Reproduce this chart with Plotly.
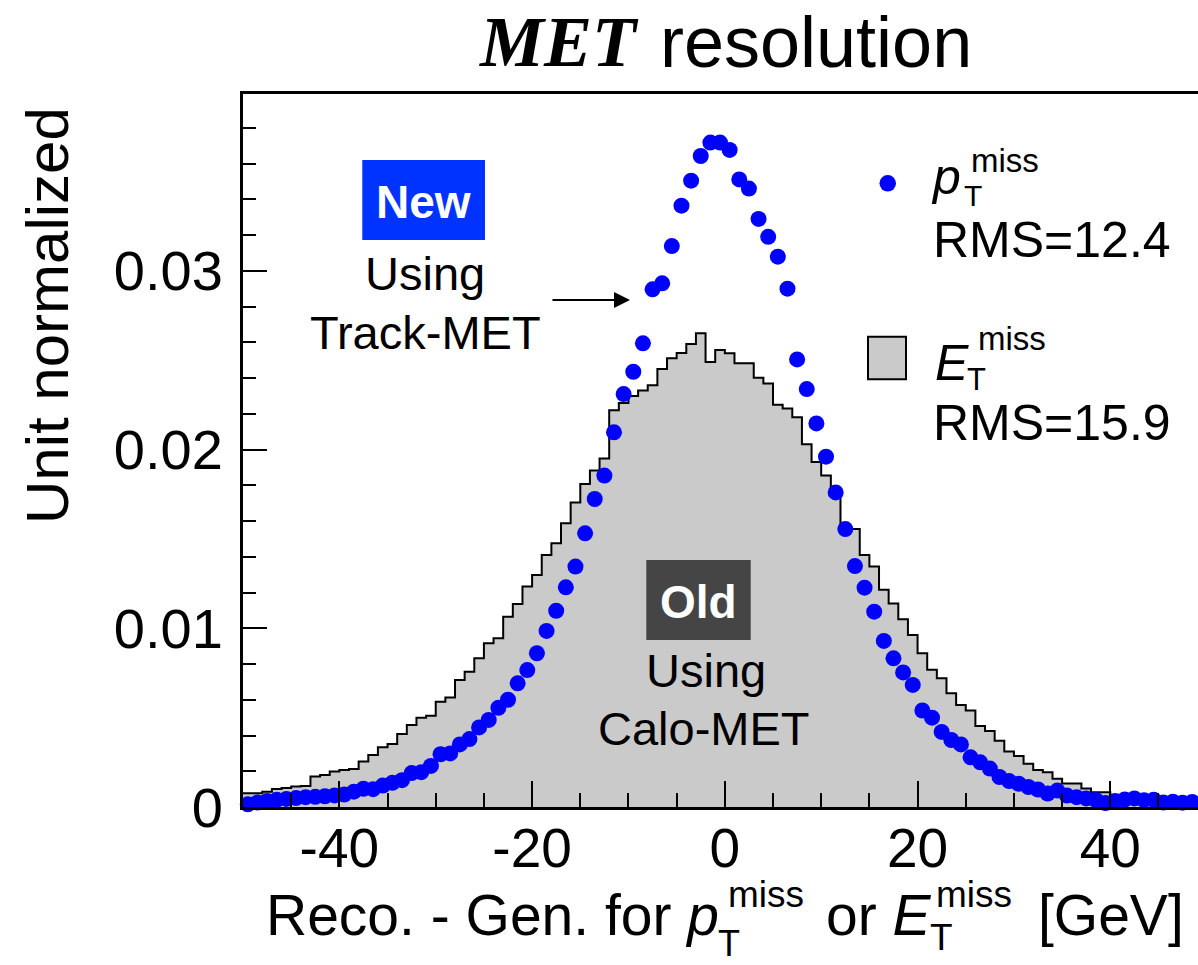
import numpy as np
import plotly.graph_objects as go

# ---------------------------------------------------------------- data
# Calo-MET histogram: 1 GeV bins from -50 to 50 GeV, unit normalized (x 1e-3)
bin_edges = np.arange(-50, 51, 1)
calo_met = [
    0.77, 0.77, 0.86, 1.01, 1.06, 1.15, 1.17, 1.70, 1.79, 1.98,
    2.07, 2.13, 2.54, 2.91, 3.34, 3.52, 4.08, 4.59, 5.00, 5.11,
    5.89, 6.12, 7.10, 7.57, 8.32, 9.16, 9.44, 10.65, 11.36, 12.33,
    12.98, 14.10, 14.75, 15.87, 17.03, 18.07, 18.82, 19.50, 22.20, 22.60,
    23.00, 23.30, 23.60, 24.50, 25.10, 25.40, 25.90, 26.50, 24.90, 25.57,
    25.38, 24.82, 24.82, 24.02, 23.70, 22.50, 22.30, 21.80, 20.30, 19.30,
    18.55, 17.55, 15.55, 15.55, 14.10, 13.45, 12.15, 11.38, 10.50, 9.62,
    8.60, 7.68, 7.20, 6.36, 5.71, 5.40, 4.53, 4.25, 3.70, 3.10,
    2.85, 2.42, 2.07, 1.95, 1.58, 1.32, 1.32, 1.04, 0.83, 0.83,
    0.67, 0.60, 0.55, 0.50, 0.45, 0.40, 0.36, 0.33, 0.30, 0.28,
]

# Track-MET points at the bin centres (x 1e-3)
bin_centers = np.arange(-49.5, 50, 1)
track_met = [
    0.15, 0.25, 0.33, 0.40, 0.45, 0.50, 0.55, 0.57, 0.60, 0.65,
    0.70, 0.86, 1.02, 1.00, 1.20, 1.35, 1.50, 1.90, 1.95, 2.30,
    2.95, 3.00, 3.50, 3.80, 4.45, 4.87, 5.55, 6.00, 6.92, 7.66,
    8.60, 9.85, 10.98, 12.29, 13.45, 15.31, 17.23, 18.54, 20.96, 23.10,
    24.35, 25.94, 28.96, 29.30, 31.38, 33.64, 35.04, 36.42, 37.17, 37.17,
    36.76, 35.11, 34.60, 32.90, 31.90, 30.79, 29.00, 25.04, 23.38, 21.46,
    19.60, 17.60, 15.55, 13.48, 12.27, 10.93, 9.29, 8.32, 7.53, 6.83,
    5.40, 5.00, 4.20, 3.75, 3.50, 2.78, 2.50, 2.15, 1.68, 1.45,
    1.30, 1.12, 0.98, 0.75, 0.92, 0.64, 0.55, 0.48, 0.39, 0.22,
    0.33, 0.42, 0.48, 0.38, 0.40, 0.25, 0.30, 0.24, 0.28, 0.22,
]
SCALE = 1e-3

x_tickvals = [-40, -20, 0, 20, 40]
x_ticktext = ["-40", "-20", "0", "20", "40"]
y_tickvals = [0, 0.01, 0.02, 0.03]
y_ticktext = ["0", "0.01", "0.02", "0.03"]

rms_track = "RMS=12.4"
rms_calo = "RMS=15.9"

# ---------------------------------------------------------------- geometry
W, H = 1198, 965
ML, MR, MT, MB = 243, 0, 94, 158
PW, PH = W - ML - MR, H - MT - MB
X_RANGE = [-50, 49.1]
Y_RANGE = [0, 0.03989]

SANS = "Liberation Sans"
SERIF = "Liberation Serif"
BLUE = "#0000ff"
GREY = "#cacaca"


def px(xp):
    """pixel column -> paper x"""
    return (xp - ML) / PW


def py(yp):
    """pixel row -> paper y"""
    return (MT + PH - yp) / PH


def mid(baseline, size, serif=False):
    """vertical centre of a text box whose baseline sits at the given row"""
    return baseline - (0.3375 if serif else 0.3465) * size


fig = go.Figure()

# histogram drawn as a filled step line
hist_y = np.append(calo_met, calo_met[-1]) * SCALE
fig.add_trace(go.Scatter(
    x=bin_edges, y=hist_y, mode="lines",
    line=dict(shape="hv", color="black", width=2),
    fill="tozeroy", fillcolor=GREY,
    hoverinfo="skip", showlegend=False,
))

fig.add_trace(go.Scatter(
    x=bin_centers, y=np.array(track_met) * SCALE, mode="markers",
    marker=dict(color=BLUE, size=16, line=dict(width=0)),
    cliponaxis=False, showlegend=False,
))

annotations = []
shapes = []


def text(s, x, y, size, xanchor="center", color="black", family=SANS, angle=0):
    annotations.append(dict(
        text=s, x=px(x), y=py(y), xref="paper", yref="paper",
        xanchor=xanchor, yanchor="middle", showarrow=False, textangle=angle,
        font=dict(family=family, size=size, color=color),
    ))


# title
text("<b><i>MET</i></b>", 641, 42, 72, "right", family=SERIF)
text("resolution", 658, 42, 72, "left")

# axis titles
text("Unit normalized", 47, 316, 60, angle=-90)
text("Reco. - Gen. for <i>p</i>", 721, mid(935, 57), 57, "right")
text("T", 716, mid(956, 36), 36, "left")
text("miss", 726, mid(907, 37), 37, "left")
text("or <i>E</i>", 934, mid(935, 57), 57, "right")
text("T", 928, mid(950, 37), 37, "left")
text("miss", 934, mid(907, 37), 37, "left")
text("[GeV]", 1036, mid(935, 57), 57, "left")

# legend
shapes.append(dict(type="circle", xref="paper", yref="paper",
                   x0=px(879.5), x1=px(896), y0=py(175), y1=py(191.6),
                   fillcolor=BLUE, line=dict(width=0)))
text("<i>p</i>", 929, mid(194.5, 50), 50, "left")
text("T", 961.5, mid(206, 30), 30, "left")
text("miss", 968.8, mid(171.7, 33), 33, "left")
text(rms_track, 930.7, mid(257.5, 50), 50, "left")

shapes.append(dict(type="rect", xref="paper", yref="paper",
                   x0=px(868), x1=px(906), y0=py(379.3), y1=py(336.7),
                   fillcolor=GREY, line=dict(color="black", width=2)))
text("<i>E</i>", 932.5, mid(380, 50), 50, "left")
text("T", 965, mid(390, 31), 31, "left")
text("miss", 976, mid(350, 33), 33, "left")
text(rms_calo, 930.7, mid(440, 50), 50, "left")

# "New" label with arrow
shapes.append(dict(type="rect", xref="paper", yref="paper",
                   x0=px(362.3), x1=px(485), y0=py(240), y1=py(160),
                   fillcolor="#0033ff", line=dict(width=0)))
text("<b>New</b>", 423.7, mid(218.3, 46), 46, color="white")
text("Using", 425, mid(290, 47), 47)
text("Track-MET", 425, mid(348.3, 47), 47)
annotations.append(dict(
    x=px(630), y=py(300), ax=-79, ay=0,
    xref="paper", yref="paper", axref="pixel", ayref="pixel",
    text="", showarrow=True, arrowhead=2, arrowsize=1.6, arrowwidth=2,
    arrowcolor="black", standoff=0,
))

# "Old" label
shapes.append(dict(type="rect", xref="paper", yref="paper",
                   x0=px(646.3), x1=px(750.7), y0=py(640), y1=py(560),
                   fillcolor="#454545", line=dict(width=0)))
text("<b>Old</b>", 698.5, mid(618.3, 46), 46, color="white")
text("Using", 706, mid(686.7, 47), 47)
text("Calo-MET", 704, mid(745, 47), 47)

fig.update_layout(
    width=W, height=H,
    margin=dict(l=ML, r=MR, t=MT, b=MB, pad=0),
    paper_bgcolor="white", plot_bgcolor="white",
    font=dict(family=SANS, color="black"),
    showlegend=False,
    annotations=annotations,
    shapes=shapes,
    xaxis=dict(
        range=X_RANGE, showgrid=False, zeroline=False,
        showline=True, linecolor="black", linewidth=3, mirror=True,
        ticks="inside", tickvals=x_tickvals, ticktext=x_ticktext,
        ticklen=26, tickwidth=2, tickcolor="black",
        minor=dict(ticks="inside", tick0=0, dtick=5, ticklen=14,
                   tickwidth=2, tickcolor="black", showgrid=False),
        tickfont=dict(family=SANS, size=55, color="black"),
        ticklabelstandoff=-9,
    ),
    yaxis=dict(
        range=Y_RANGE, showgrid=False, zeroline=False,
        showline=True, linecolor="black", linewidth=3, mirror=False,
        ticks="inside", tickvals=y_tickvals, ticktext=y_ticktext,
        ticklen=24, tickwidth=2, tickcolor="black",
        minor=dict(ticks="inside", tick0=0, dtick=0.002, ticklen=13,
                   tickwidth=2, tickcolor="black", showgrid=False),
        tickfont=dict(family=SANS, size=56, color="black"),
        ticklabelstandoff=6,
    ),
)

fig.write_html("out.html")
